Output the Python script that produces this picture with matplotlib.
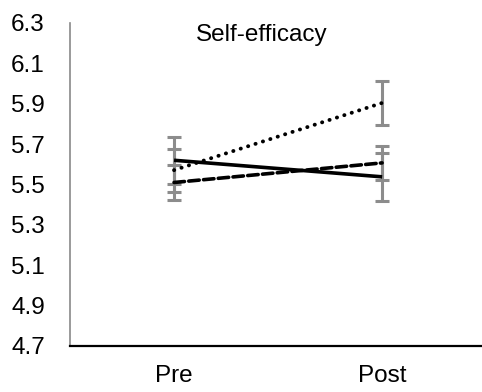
import numpy as np
import matplotlib.pyplot as plt

plt.rcParams['font.family'] = ['Liberation Sans', 'DejaVu Sans']

# Pre / Post means with error bar half-widths
timepoints = ['Pre', 'Post']
solid_mean = [5.62, 5.538]
solid_err = [0.116, 0.119]
dashed_mean = [5.51, 5.607]
dashed_err = [0.087, 0.085]
dotted_mean = [5.571, 5.904]
dotted_err = [0.107, 0.11]

y_ticks = [4.7, 4.9, 5.1, 5.3, 5.5, 5.7, 5.9, 6.1, 6.3]

fig = plt.figure(figsize=(4.82, 3.92), dpi=100)
ax = fig.add_axes([70 / 482, 1 - 346 / 392, 1 - 70 / 482, (346 - 23) / 392])

x = np.arange(len(timepoints))
err_grey = '#8c8c8c'

# mean, error, linestyle, linewidth, capstyle
series = [
    (solid_mean, solid_err, '-', 2.6, 'butt'),
    (dotted_mean, dotted_err, (0, (0.05, 1.95)), 2.8, 'round'),
    (dashed_mean, dashed_err, (0, (2.9, 1.2)), 2.6, 'round'),
]
for mean, err, *_ in series:
    ax.errorbar(x, mean, yerr=err, fmt='none', ecolor=err_grey,
                elinewidth=2.2, capsize=5, capthick=2.2, zorder=2)
for mean, err, ls, lw, cap in series:
    ax.plot(x, mean, color='black', linestyle=ls, linewidth=lw,
            dash_capstyle=cap, solid_capstyle='butt', zorder=3)

ax.set_xlim(-0.5, 1.48)
ax.set_ylim(4.7, 6.3)
ax.set_yticks(y_ticks)
ax.set_yticklabels([f'{v:.1f}' for v in y_ticks])
ax.set_xticks(x)
ax.set_xticklabels(timepoints)
ax.tick_params(axis='both', length=0, labelsize=17.5)
ax.tick_params(axis='y', pad=18)
ax.tick_params(axis='x', pad=14)

for side in ['top', 'right']:
    ax.spines[side].set_visible(False)
ax.spines['left'].set_color('#898989')
ax.spines['left'].set_linewidth(1.2)
ax.spines['bottom'].set_color('black')
ax.spines['bottom'].set_linewidth(1.6)

ax.text(0.423, 6.24, 'Self-efficacy', fontsize=17.5, ha='center', va='center')

fig.savefig('out.png', dpi=100)
